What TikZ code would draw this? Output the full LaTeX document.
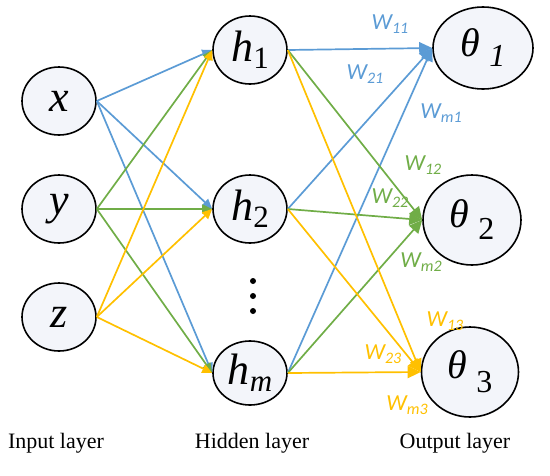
\documentclass[tikz,border=0pt]{standalone}
\usepackage{fontspec}
\setmainfont{Liberation Serif}[ItalicFont=Liberation Serif Italic]
\newfontfamily\wfont{Carlito}
\usetikzlibrary{shapes.geometric,arrows.meta}
\definecolor{cblue}{HTML}{5B9BD5}
\definecolor{cgreen}{HTML}{70AD47}
\definecolor{cyellow}{HTML}{FFC000}
\definecolor{nfill}{HTML}{F3F5FA}
\newcommand{\wlab}[1]{{\wfont\itshape W\raisebox{-3.5pt}{\fontsize{16}{16}\selectfont #1}}}
\newcommand{\hsub}[1]{\raisebox{-7pt}{\fontsize{31}{31}\selectfont #1}}
\newcommand{\tsub}[2]{\hspace{9pt}\raisebox{-#1}{\fontsize{32}{32}\selectfont #2}}
\begin{document}
\begin{tikzpicture}[x=1pt,y=-1pt,
 neuron/.style={ellipse,draw=black,line width=1.6pt,inner sep=0pt,fill=nfill,minimum width=74pt,minimum height=68pt,font=\fontsize{44}{44}\selectfont\itshape},
 outneuron/.style={neuron,font=\fontsize{40}{40}\selectfont\itshape},
 inarrow/.style={line width=1.7pt,-{Triangle[length=10pt,width=9pt]}},
 outarrow/.style={line width=1.7pt,-{Triangle[length=13pt,width=12pt]}},
 wl/.style={font=\fontsize{23}{23}\selectfont, inner sep=0pt},
 layer/.style={font=\fontsize{22}{22}\selectfont, inner sep=0pt}
]
\useasboundingbox (0,0) rectangle (550,475);
% input layer
\node[neuron] (x) at (59,101) {x};
\node[neuron] (y) at (59,209) {y};
\node[neuron] (z) at (59,317) {z};
% hidden layer
\node[neuron] (h1) at (250,50) {h\hsub{\upshape 1}};
\node[neuron] (h2) at (250,209) {h\hsub{\upshape 2}};
\node[neuron,minimum height=64pt] (hm) at (250,373) {h\hsub{m}};
% output layer
\node[outneuron,minimum width=100pt,minimum height=82pt] (o1) at (483,48) {θ\tsub{10pt}{1}};
\node[outneuron,minimum width=98pt,minimum height=90pt] (o2) at (472,220) {θ\tsub{12pt}{\upshape 2}};
\node[outneuron,minimum width=97pt,minimum height=90pt] (o3) at (470,372) {θ\tsub{14pt}{\upshape 3}};
% dots
\fill (253,281) circle (3pt);
\fill (253,296) circle (3pt);
\fill (253,311) circle (3pt);
% input to hidden
\draw[cblue,inarrow] (x.east) -- (h1.west);
\draw[cblue,inarrow] (x.east) -- (h2.west);
\draw[cblue,inarrow] (x.east) -- (hm.west);
\draw[cgreen,inarrow] (y.east) -- (h1.west);
\draw[cgreen,inarrow] (y.east) -- (h2.west);
\draw[cgreen,inarrow] (y.east) -- (hm.west);
\draw[cyellow,inarrow] (z.east) -- (h1.west);
\draw[cyellow,inarrow] (z.east) -- (h2.west);
\draw[cyellow,inarrow] (z.east) -- (hm.west);
% hidden to output
\draw[cblue,outarrow] (h1.east) -- (o1.west);
\draw[cblue,outarrow] (h2.east) -- (o1.west);
\draw[cblue,outarrow] (hm.east) -- (o1.west);
\draw[cgreen,outarrow] (h1.east) -- (o2.west);
\draw[cgreen,outarrow] (h2.east) -- (o2.west);
\draw[cgreen,outarrow] (hm.east) -- (o2.west);
\draw[cyellow,outarrow] (h1.east) -- (o3.west);
\draw[cyellow,outarrow] (h2.east) -- (o3.west);
\draw[cyellow,outarrow] (hm.east) -- (o3.west);
% weight labels
\node[wl,text=cblue] (w11) at (390,24) {\wlab{11}};
\node[wl,text=cblue] (w21) at (365,74) {\wlab{21}};
\node[wl,text=cblue] (wm1) at (441,113) {\wlab{m1}};
\node[wl,text=cgreen] (w12) at (423,165) {\wlab{12}};
\node[wl,text=cgreen] (w22) at (390,198) {\wlab{22}};
\node[wl,text=cgreen] (wm2) at (421,262) {\wlab{m2}};
\node[wl,text=cyellow] (w13) at (445,321) {\wlab{13}};
\node[wl,text=cyellow] (w23) at (383,354) {\wlab{23}};
\node[wl,text=cyellow] (wm3) at (407,405) {\wlab{m3}};
% layer labels
\node[layer] (lin) at (56,443) {Input layer};
\node[layer] (lhid) at (252,443) {Hidden layer};
\node[layer] (lout) at (455,443) {Output layer};
\end{tikzpicture}
\end{document}
